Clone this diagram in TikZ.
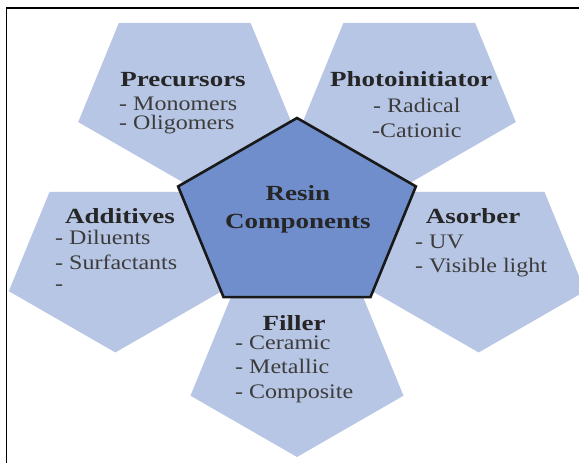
\documentclass[tikz,border=0pt]{standalone}
\usepackage{fontspec}
\setmainfont{Liberation Serif}
\usepackage{graphicx}
\definecolor{outerfill}{RGB}{183,198,228}
\definecolor{corefill}{RGB}{112,142,204}
\definecolor{ttltxt}{RGB}{38,38,38}
\definecolor{itmtxt}{RGB}{60,60,60}
\newcommand\sqzt[1]{\scalebox{1}[0.8]{#1}}
\newcommand\sqzi[1]{\scalebox{1}[0.86]{#1}}
\tikzset{
  outerpent/.style={fill=outerfill, draw=none},
  corepent/.style={fill=corefill, draw=black!90, line width=2.6pt, line join=miter},
  frameline/.style={draw=black, line width=1.8pt},
  ttl/.style={font=\fontsize{27}{30}\selectfont\bfseries, text=ttltxt, inner sep=0pt, anchor=base},
  itm/.style={font=\fontsize{24}{27}\selectfont, text=itmtxt, inner sep=0pt, anchor=base west},
}
\begin{document}
\begin{tikzpicture}[x=1pt,y=-1pt]
\useasboundingbox (0,0) rectangle (579,463);
\clip (0,0) rectangle (579,463);
\fill[white] (0,0) rectangle (579,463);
\draw[frameline] (6.5,8.3) rectangle (640,520);
\begin{scope}[shift={(297,217)}, yscale=-0.792]
  \foreach \a in {126,54,198,342,270} {
    \begin{scope}[shift={(\a:191)}]
      \path[outerpent] (270:112) -- (342:112) -- (54:112) -- (126:112) -- (198:112) -- cycle;
    \end{scope}
  }
  \path[corepent] (90:125) -- (162:125) -- (234:125) -- (306:125) -- (18:125) -- cycle;
\end{scope}
\node[ttl] (prec-t) at (183,86) {\sqzt{Precursors}};
\node[itm] (prec-1) at (119,110) {\sqzi{- Monomers}};
\node[itm] (prec-2) at (119,129) {\sqzi{- Oligomers}};
\node[ttl] (photo-t) at (411,86) {\sqzt{Photoinitiator}};
\node[itm] (photo-1) at (373,112) {\sqzi{- Radical}};
\node[itm] (photo-2) at (372,137) {\sqzi{-Cationic}};
\node[ttl] (res-1) at (298,200) {\sqzt{Resin}};
\node[ttl] (res-2) at (298,228) {\sqzt{Components}};
\node[ttl] (add-t) at (120,223) {\sqzt{Additives}};
\node[itm] (add-1) at (55,244) {\sqzi{- Diluents}};
\node[itm] (add-2) at (55,269) {\sqzi{- Surfactants}};
\node[itm] (add-3) at (55,290) {\sqzi{-}};
\node[ttl] (abs-t) at (473,223) {\sqzt{Asorber}};
\node[itm] (abs-1) at (415,248) {\sqzi{- UV}};
\node[itm] (abs-2) at (415,272) {\sqzi{- Visible light}};
\node[ttl] (fil-t) at (294,330) {\sqzt{Filler}};
\node[itm] (fil-1) at (235,349) {\sqzi{- Ceramic}};
\node[itm] (fil-2) at (235,373) {\sqzi{- Metallic}};
\node[itm] (fil-3) at (235,398) {\sqzi{- Composite}};
\end{tikzpicture}
\end{document}
